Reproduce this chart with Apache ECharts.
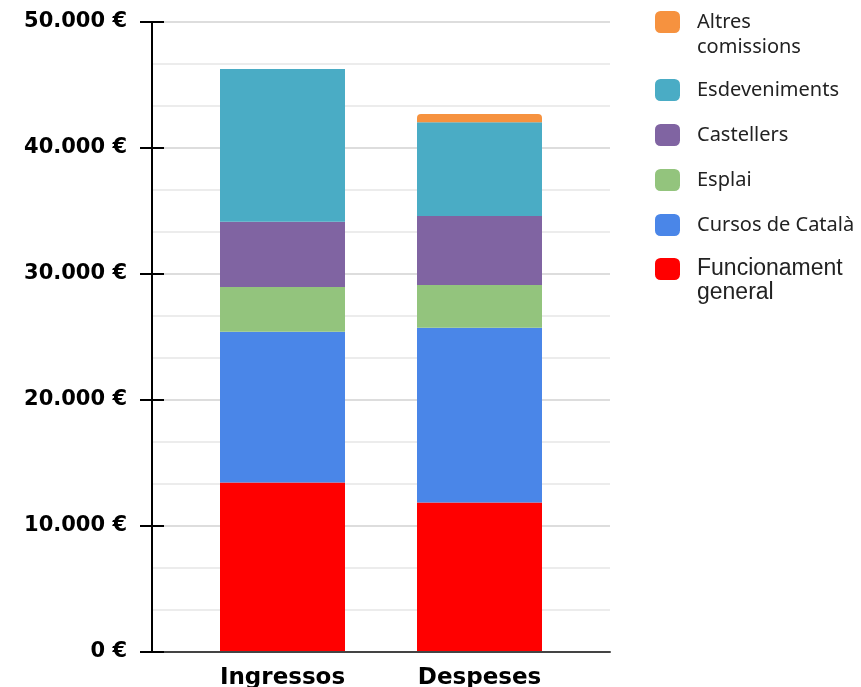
<!DOCTYPE html>
<html>
<head>
<meta charset="utf-8">
<script src="https://cdn.jsdelivr.net/npm/echarts@6/dist/echarts.min.js"></script>
<style>html,body{margin:0;padding:0;background:#fff}#c{width:861px;height:687px}</style>
</head>
<body>
<div id="c"></div>
<script>
const categories = ['Ingressos', 'Despeses'];
const funcionament = [13450, 11870];
const cursos = [11960, 13870];
const esplai = [3550, 3390];
const castellers = [5190, 5480];
const esdeveniments = [12110, 7440];
const altres = [0, 640];
const yTicks = [0, 10000, 20000, 30000, 40000, 50000];

const names = {
  altres: 'Altres\ncomissions',
  esdev: 'Esdeveniments',
  cast: 'Castellers',
  esplai: 'Esplai',
  cursos: 'Cursos de Català',
  func: 'Funcionament\ngeneral'
};
const colors = {
  altres: '#f6923f', esdev: '#4aacc5', cast: '#8064a2',
  esplai: '#93c47d', cursos: '#4a86e8', func: '#ff0000'
};

function fmt(v) {
  return String(v).replace(/\B(?=(\d{3})+(?!\d))/g, '.') + ' €';
}

const yMin = yTicks[0], yMax = yTicks[yTicks.length - 1], yStep = yTicks[1] - yTicks[0];

function bar(key, data, extra) {
  return Object.assign({
    name: names[key], type: 'bar', stack: 'total', xAxisIndex: 1, yAxisIndex: 3,
    data: data, barWidth: 125, itemStyle: { color: colors[key] }
  }, extra || {});
}

function legendItem(key, top, font, size, lh, twoLine) {
  return {
    data: [names[key]], left: 655, top: top, padding: 0,
    icon: 'roundRect', itemWidth: 25, itemHeight: 22,
    selectedMode: false,
    formatter: function (n) { return twoLine ? ' \n' + n : n; },
    textStyle: {
      fontFamily: font, fontSize: size, color: '#222', lineHeight: lh,
      padding: [0, 0, 0, 12]
    }
  };
}

const chart = echarts.init(document.getElementById('c'), null, { renderer: 'canvas' });
chart.setOption({
  animation: false,
  backgroundColor: '#fff',
  grid: [
    { left: 152, right: 251, top: 22, bottom: 35, containLabel: false, outerBoundsMode: 'none' },
    { left: 184, right: 283, top: 22, bottom: 35, containLabel: false, outerBoundsMode: 'none' }
  ],
  legend: [
    legendItem('altres', -15.5, 'Noto Sans', 20, 25, true),
    legendItem('esdev', 77.5, 'Noto Sans', 20, 25, false),
    legendItem('cast', 122.5, 'Noto Sans', 20, 25, false),
    legendItem('esplai', 167.5, 'Noto Sans', 20, 25, false),
    legendItem('cursos', 212.5, 'Noto Sans', 20, 25, false),
    legendItem('func', 233, 'Liberation Sans', 23, 24, true)
  ],
  xAxis: [
    {
      gridIndex: 0, type: 'value', min: 0, max: 1, z: 5,
      axisLine: { show: true, lineStyle: { color: '#444', width: 2 } },
      axisTick: { show: false }, axisLabel: { show: false }, splitLine: { show: false }
    },
    {
      gridIndex: 1, type: 'category', data: categories,
      axisLine: { show: false }, axisTick: { show: false },
      axisLabel: {
        margin: 15, color: '#000', fontFamily: 'DejaVu Sans', fontWeight: 'bold', fontSize: 23
      }
    }
  ],
  yAxis: [
    {
      gridIndex: 0, type: 'value', min: yMin, max: yMax, interval: yStep, z: 0,
      axisLine: { show: false }, axisTick: { show: false },
      axisLabel: {
        margin: 25, color: '#000', fontFamily: 'DejaVu Sans', fontWeight: 'bold', fontSize: 21,
        formatter: fmt
      },
      splitLine: { show: true, lineStyle: { color: '#d2d2d2', width: 1.5 } },
      minorTick: { show: false, splitNumber: 3 },
      minorSplitLine: { show: true, lineStyle: { color: '#e6e6e6', width: 1.5 } }
    },
    {
      gridIndex: 0, type: 'value', min: yMin, max: yMax, interval: yStep, position: 'left', z: 5,
      axisLine: { show: true, lineStyle: { color: '#000', width: 2 } },
      axisTick: { show: true, inside: false, length: 12, lineStyle: { color: '#000', width: 2 } },
      axisLabel: { show: false }, splitLine: { show: false }
    },
    {
      gridIndex: 0, type: 'value', min: yMin, max: yMax, interval: yStep, position: 'left', z: 5,
      axisLine: { show: false },
      axisTick: { show: true, inside: true, length: 12, lineStyle: { color: '#000', width: 2 } },
      axisLabel: { show: false }, splitLine: { show: false }
    },
    {
      gridIndex: 1, type: 'value', min: yMin, max: yMax, interval: yStep, show: false,
      splitLine: { show: false }
    }
  ],
  series: [
    bar('func', funcionament),
    bar('cursos', cursos),
    bar('esplai', esplai),
    bar('cast', castellers),
    bar('esdev', esdeveniments),
    bar('altres', altres, { itemStyle: { color: colors.altres, borderRadius: [4, 4, 0, 0] } })
  ]
});
</script>
</body>
</html>
